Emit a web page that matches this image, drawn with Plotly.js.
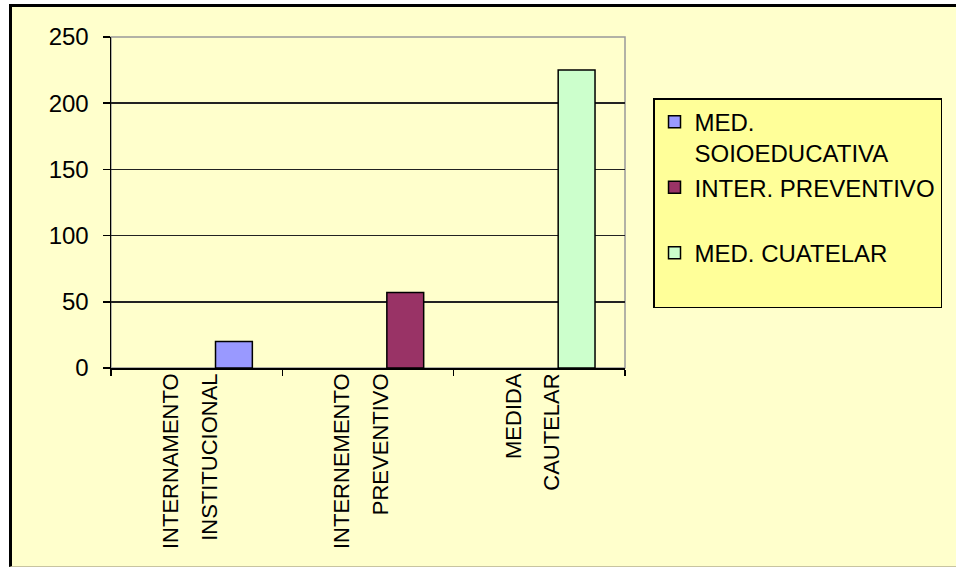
<!DOCTYPE html>
<html><head><meta charset="utf-8">
<script src="https://cdn.plot.ly/plotly-3.0.1.min.js"></script>
<style>
html,body{margin:0;padding:0;background:#fff;}
#frame{position:absolute;left:9px;top:4px;width:944px;height:559px;background:#FFFFCC;border-left:3px solid #000;border-top:3px solid #000;border-bottom:1px solid #c8c4a0;}
#chart{width:944px;height:559px;}
</style></head><body>
<div id="frame"><div id="chart"></div></div>
<script>
const categoriesLine1 = ['INTERNAMENTO', 'INTERNEMENTO', 'MEDIDA'];
const categoriesLine2 = ['INSTITUCIONAL', 'PREVENTIVO', 'CAUTELAR'];
const seriesNames = ['MED.<br>SOIOEDUCATIVA', 'INTER. PREVENTIVO', 'MED. CUATELAR'];
const medSocioeducativa = [20, null, null];
const interPreventivo = [null, 57, null];
const medCautelar = [null, null, 225];
const seriesColors = ['#9999FF', '#993366', '#CCFFCC'];
const yTicks = [0, 50, 100, 150, 200, 250];

const idx = categoriesLine1.map((_, i) => i);
const seriesValues = [medSocioeducativa, interPreventivo, medCautelar];
const FONT = 'Liberation Sans, Arial, sans-serif';

const traces = seriesValues.map((vals, i) => ({
  type: 'bar',
  x: idx,
  y: vals,
  name: seriesNames[i] + (i > 0 ? '<br>&nbsp;' : ''),
  legendgroup: 'g' + i,
  width: 0.215,
  offset: 0.11,
  marker: {color: seriesColors[i], line: {color: '#000', width: 1.5}},
  hoverinfo: 'x+y'
}));
traces.push({type: 'scatter', x: [], y: [], xaxis: 'x2', showlegend: false, hoverinfo: 'skip'});
traces.push({type: 'scatter', x: [], y: [], xaxis: 'x3', showlegend: false, hoverinfo: 'skip'});

const xRange = [-0.5, categoriesLine1.length - 0.5];
const boundaries = [-0.5].concat(idx.map(i => i + 0.5));

const labelAxis = (vals, text) => ({
  overlaying: 'x', anchor: 'y', side: 'bottom', range: xRange,
  tickmode: 'array', tickvals: vals, ticktext: text, tickangle: -90,
  ticks: '', showline: false, showgrid: false, zeroline: false,
  tickfont: {family: FONT, size: 22, color: '#000'}
});

const layout = {
  width: 944, height: 559,
  margin: {l: 99, r: 331, t: 30, b: 198},
  paper_bgcolor: 'rgba(0,0,0,0)',
  plot_bgcolor: 'rgba(0,0,0,0)',
  barmode: 'overlay',
  showlegend: true,
  legend: {
    x: 1.0545, y: 0.815, xanchor: 'left', yanchor: 'top',
    bgcolor: '#FFFF99', bordercolor: '#000', borderwidth: 1.5,
    font: {family: FONT, size: 24, color: '#000'},
    valign: 'top', tracegroupgap: 11, traceorder: 'normal'
  },
  xaxis: {
    range: xRange, tickmode: 'array', tickvals: boundaries, showticklabels: false,
    ticks: 'outside', ticklen: 6, tickcolor: '#000', tickwidth: 1.5,
    showline: true, linecolor: '#000', linewidth: 1.5, showgrid: false, zeroline: false
  },
  xaxis2: labelAxis(idx.map(i => i - 0.15), categoriesLine1),
  xaxis3: labelAxis(idx.map(i => i + 0.075), categoriesLine2),
  yaxis: {
    range: [0, 250], tickmode: 'array', tickvals: yTicks,
    showgrid: true, gridcolor: '#222', gridwidth: 1.5,
    showline: true, linecolor: '#000', linewidth: 1.5,
    ticks: 'outside', ticklen: 7, tickcolor: '#000', tickwidth: 1.5,
    ticklabelstandoff: 9, zeroline: false,
    tickfont: {family: FONT, size: 24, color: '#000'}
  },
  shapes: [{type: 'rect', xref: 'paper', yref: 'paper', x0: 0, x1: 1, y0: 0, y1: 1,
            line: {color: '#999', width: 1.5}, layer: 'below'}]
};

Plotly.newPlot('chart', traces, layout, {displayModeBar: false, staticPlot: true});
</script>
</body></html>
